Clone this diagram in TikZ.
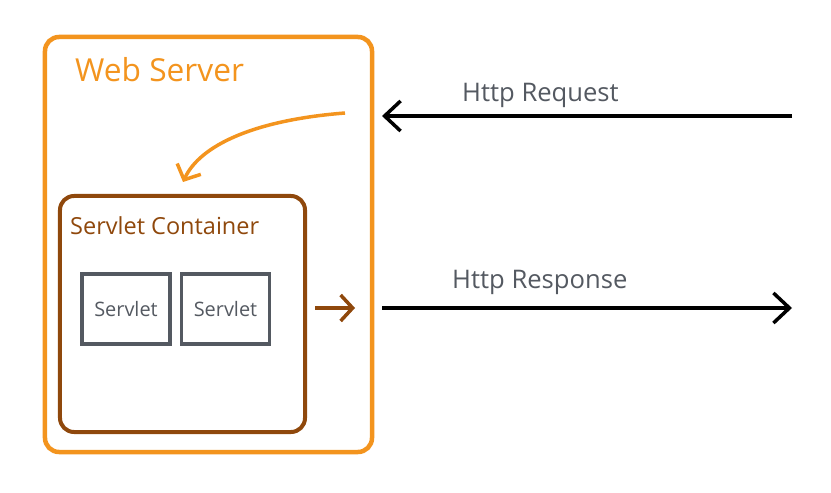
\documentclass[tikz,border=0pt]{standalone}
\usepackage{fontspec}
\setmainfont{Open Sans}
\usetikzlibrary{arrows.meta,positioning}
\definecolor{WebClr}{RGB}{243,148,30}
\definecolor{ContClr}{RGB}{143,72,12}
\definecolor{SrvClr}{RGB}{84,89,97}

\begin{document}
\begin{tikzpicture}[x=1bp,y=-1bp,
  box/.style={rectangle,rounded corners=14bp,inner sep=0pt,line width=4.5bp},
  webbox/.style={box,draw=WebClr,minimum width=327bp,minimum height=415bp},
  contbox/.style={box,draw=ContClr,line width=4bp,minimum width=245bp,minimum height=236bp},
  srvbox/.style={rectangle,draw=SrvClr,line width=3.5bp,inner sep=0pt,minimum width=88bp,minimum height=70bp,
    font=\fontsize{20}{24}\selectfont,text=SrvClr},
  title/.style={anchor=base west,inner sep=0pt},
  msg/.style={title,text=SrvClr,font=\fontsize{25.7}{30}\selectfont},
  wire/.style={line width=3.5bp,-{Straight Barb[length=16bp,width=30bp]}}]
\useasboundingbox (0,0) rectangle (831,493);

\node[webbox] (web) at (208.5,244.5) {};
\node[contbox] (cont) at (182.5,314) {};
\node[srvbox] (srvA) at (126,309) {Servlet};
\node[srvbox] (srvB) at (225.5,309) {Servlet};

\node[title,text=WebClr,font=\fontsize{31.8}{36}\selectfont] (webT) at (75,82) {Web Server};
\node[title,text=ContClr,font=\fontsize{23.6}{28}\selectfont] (contT) at (70,235) {Servlet Container};
\node[msg] (reqT) at (462,102) {Http Request};
\node[msg] (resT) at (452,289) {Http Response};

\coordinate (reqA) at (792,116);
\coordinate (reqB) at (382,116);
\coordinate (resA) at (382,308);
\coordinate (resB) at (792,308);
\coordinate (inA) at (345,113);
\coordinate (inB) at (183,182);
\coordinate (outA) at (315,308);
\coordinate (outB) at (355,308);

\draw[wire] (reqA) -- (reqB);
\draw[wire] (resA) -- (resB);
\draw[wire,WebClr,-{Straight Barb[length=12bp,width=26bp]}] (inA) .. controls (255,120) and (200,145) .. (inB);
\draw[wire,ContClr,-{Straight Barb[length=12bp,width=26bp]}] (outA) -- (outB);
\end{tikzpicture}
\end{document}
